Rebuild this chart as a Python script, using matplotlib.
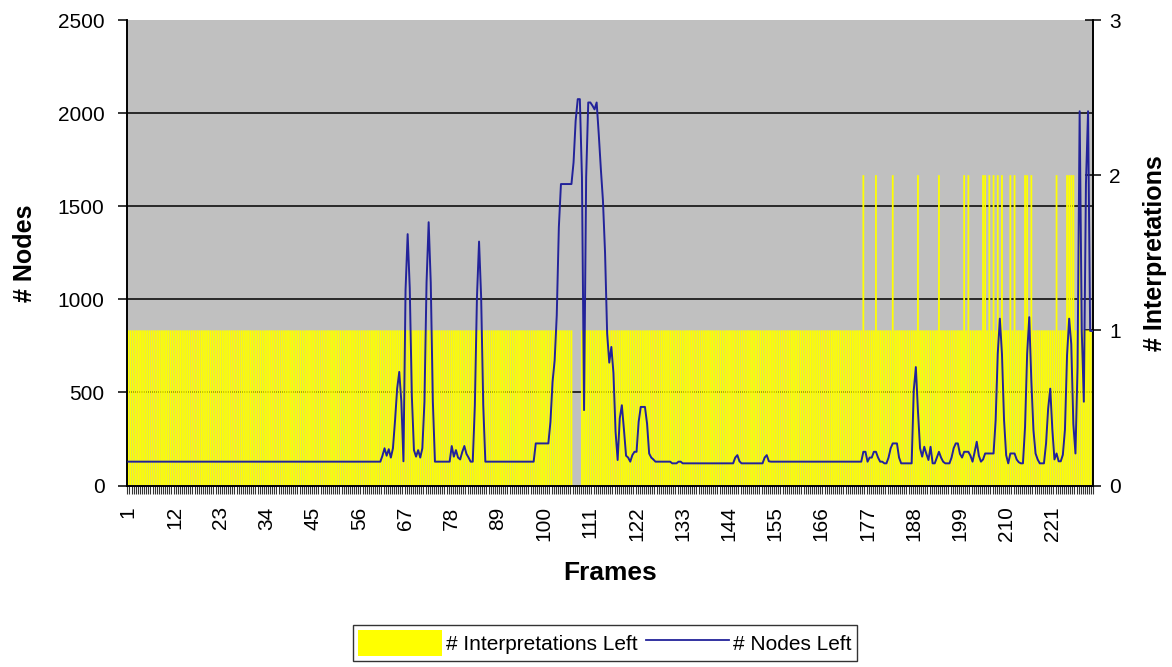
import numpy as np
import matplotlib
matplotlib.use("Agg")
import matplotlib.pyplot as plt
from matplotlib.patches import Patch
from matplotlib.lines import Line2D
from matplotlib.ticker import FixedLocator

# two samples per frame -> 460 categories, labelled every 22nd with its frame number
frame_labels = [1, 12, 23, 34, 45, 56, 67, 78, 89, 100, 111,
                122, 133, 144, 155, 166, 177, 188, 199, 210, 221]

# "# Interpretations Left" as (value, run length) read left to right
interp_runs = [(1, 212), (0, 4), (1, 134), (2, 1), (1, 5), (2, 1), (1, 7),
               (2, 1), (1, 11), (2, 1), (1, 9), (2, 1), (1, 11), (2, 1),
               (1, 1), (2, 1), (1, 6), (2, 2), (1, 1), (2, 1), (1, 1), (2, 1),
               (1, 1), (2, 1), (1, 1), (2, 1), (1, 3), (2, 1), (1, 1), (2, 1),
               (1, 4), (2, 2), (1, 1), (2, 1), (1, 11), (2, 1), (1, 4), (2, 4),
               (1, 2), (2, 1), (1, 6)]

# "# Nodes Left", piece by piece
nodes_a = [128] * 121
nodes_b = [160, 200, 160, 195, 150, 200, 350, 520, 610, 450, 130,
           1050, 1350, 1060, 480, 190, 155, 190, 150, 200,
           450, 1090, 1414, 1090, 450]
nodes_c = [128] * 8 + [212, 155, 190, 150, 140, 180, 212, 170, 150] + [128] * 2
nodes_d = [430, 1010, 1310, 1010, 430] + [128] * 24
nodes_e = [226] * 7 + [342, 556, 672, 914, 1387] + [1619] * 6
nodes_f = [1735, 1959, 2075, 2075, 1655, 405, 1655,
           2057, 2057, 2040, 2020, 2057,
           1887, 1700, 1530, 1250, 816, 660, 744, 604, 290, 137,
           360, 431, 300, 160, 150, 128, 163, 181, 181, 342,
           422, 422, 422, 333, 172, 150, 140, 128]
nodes_g = ([128] * 7 + [119] * 3 + [128] * 2 + [119] * 25 + [150, 163, 130]
           + [119] * 11 + [150, 163, 130] + [128] * 44)
nodes_h = [181, 181, 128, 150, 150, 181, 181, 150, 128, 128,
           119, 119, 150, 200, 226, 226, 226, 150, 119, 119,
           119, 119, 119, 119, 511, 636, 400, 200, 155, 208,
           170, 137, 208, 119, 119, 150, 181, 150, 128, 119,
           119, 119, 150, 200, 226, 226, 170, 150, 181, 181,
           181, 160, 128, 180, 235, 160, 128, 140, 172, 172,
           172, 172, 172, 351, 708, 896, 708, 351, 163, 119,
           172, 172, 172, 140, 125, 119, 119, 315, 708, 904,
           560, 297, 172, 140, 119, 119, 119, 226, 413, 520,
           300, 140, 172, 130, 130, 165, 300, 700, 896, 760,
           330, 172, 636, 2010, 830, 450, 1620, 2010, 830, 830]

node_grid = [500, 1000, 1500, 2000]

interp = np.concatenate([[v] * n for v, n in interp_runs])
nodes = np.array(nodes_a + nodes_b + nodes_c + nodes_d + nodes_e
                 + nodes_f + nodes_g + nodes_h, dtype=float)
x = np.arange(1, len(nodes) + 1)

plt.rcParams['font.family'] = ['Liberation Sans', 'DejaVu Sans']

W, H = 1172, 667
fig = plt.figure(figsize=(W / 100, H / 100), dpi=100)
L, R, T, B = 127.3, 1093.3, 20.0, 485.5
ax = fig.add_axes([L / W, 1 - B / H, (R - L) / W, (B - T) / H])
ax.set_facecolor('#C0C0C0')

NMAX, IMAX = 2500, 3
for g in node_grid:
    ax.axhline(g * IMAX / NMAX, color='black', lw=1.1, zorder=1)
bars = ax.bar(x, interp, width=0.85, color='#FFFF00', linewidth=0, zorder=2)
for b in bars:
    b.set_snap(False)
ax.set_xlim(0.5, len(x) + 0.5)
ax.set_ylim(0, IMAX)

ax.set_xticks([2 * f - 1 for f in frame_labels])
ax.set_xticklabels([str(f) for f in frame_labels], rotation=90)
ax.xaxis.set_minor_locator(FixedLocator(np.arange(0.5, len(x) + 1, 1)))
ax.tick_params(axis='x', which='major', length=0, pad=15, labelsize=15)
ax.tick_params(axis='x', which='minor', length=6, width=0.8,
               color='#333333', direction='out')

# nodes line on a twin axis so it is drawn over the bars
ax2 = ax.twinx()
ax2.plot(x, nodes, color='#22229a', lw=1.4, zorder=3)
ax2.set_ylim(0, NMAX)
ax2.yaxis.tick_left()
ax2.set_yticks(range(0, NMAX + 1, 500))
ax2.tick_params(axis='y', direction='out', length=6.5, width=1.1,
                labelsize=15, pad=10)

# twinx moves the first axis' ticks to the left, so put them back right
ax.yaxis.tick_right()
ax.set_yticks(range(IMAX + 1))
ax.tick_params(axis='y', direction='inout', length=11, width=1.1,
               labelsize=15, pad=6)

for a in (ax, ax2):
    a.spines['top'].set_visible(False)
    for s in ('left', 'right', 'bottom'):
        a.spines[s].set_color('black')
        a.spines[s].set_linewidth(1.2)

fig.text(610 / W, 1 - 573 / H, 'Frames', ha='center', va='center',
         fontsize=19, fontweight='bold')
fig.text(25 / W, 1 - 253 / H, '# Nodes', ha='center', va='center',
         rotation=90, fontsize=18, fontweight='bold')
fig.text(1155 / W, 1 - 253 / H, '# Interpretations', ha='center', va='center',
         rotation=90, fontsize=18, fontweight='bold')

handles = [Patch(facecolor='#FFFF00', edgecolor='none'),
           Line2D([], [], color='#22229a', lw=1.3)]
leg = fig.legend(handles, ['# Interpretations Left', '# Nodes Left'],
                 loc='center', bbox_to_anchor=(605 / W, 1 - 643 / H), ncol=2,
                 frameon=True, fancybox=False, edgecolor='black', fontsize=15,
                 handlelength=4, handleheight=1.5, handletextpad=0.2,
                 columnspacing=0.4, borderpad=0.25, borderaxespad=0)
leg.get_frame().set_linewidth(1.0)

fig.savefig('out.png', dpi=100)
